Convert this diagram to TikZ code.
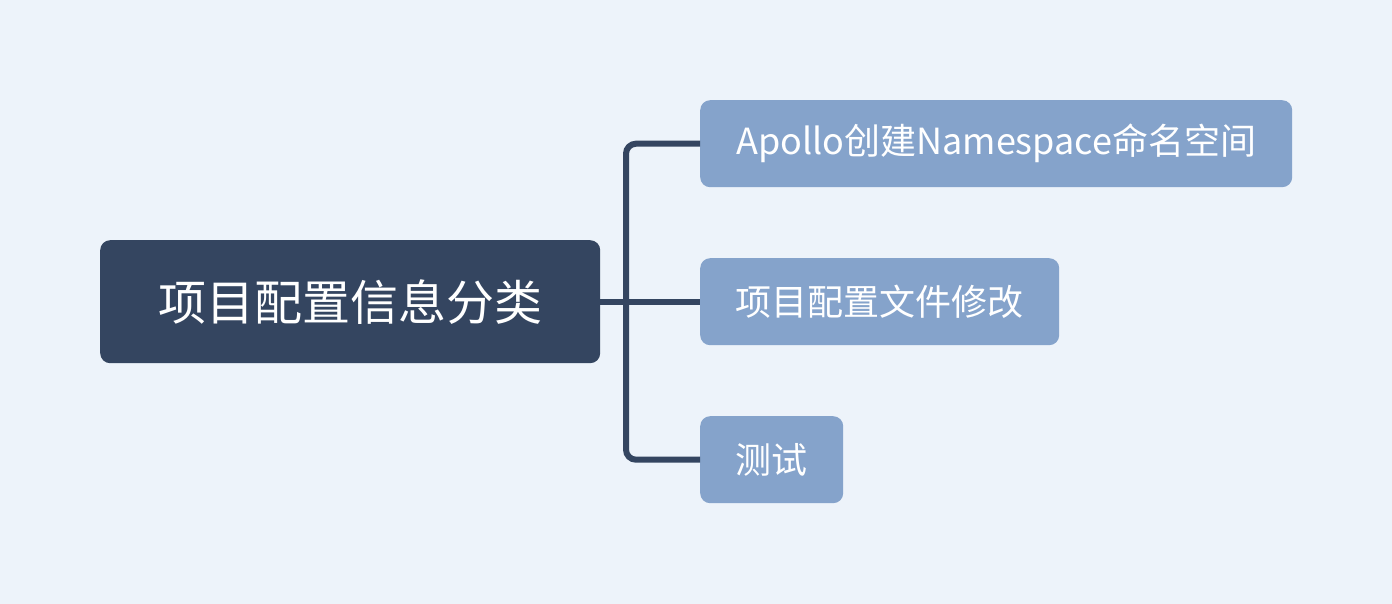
\documentclass[tikz,border=0pt]{standalone}
\usepackage{fontspec}
\setmainfont{Noto Sans CJK SC}
\definecolor{bg}{HTML}{EDF3FA}
\definecolor{rootc}{HTML}{344560}
\definecolor{childc}{HTML}{85A3CB}
\begin{document}
\begin{tikzpicture}[x=1pt,y=-1pt,
  rootbox/.style={fill=rootc,rounded corners=10pt,text=white,font=\fontsize{48}{54}\selectfont,inner sep=0pt,anchor=north west},
  childbox/.style={fill=childc,rounded corners=10pt,text=white,font=\fontsize{36}{42}\selectfont,inner sep=0pt,anchor=north west},
  conn/.style={draw=rootc,line width=6pt,rounded corners=10pt}]
\fill[bg] (0,0) rectangle (1392,604);
\useasboundingbox (0,0) rectangle (1392,604);
\node[rootbox,minimum width=500pt,minimum height=123pt] (root) at (100,240) {项目配置信息分类};
\node[childbox,minimum width=592pt,minimum height=87pt] (c1) at (700,100) {Apollo创建Namespace命名空间};
\node[childbox,minimum width=359pt,minimum height=87pt] (c2) at (700,258) {项目配置文件修改};
\node[childbox,minimum width=143pt,minimum height=87pt] (c3) at (700,416) {测试};
\coordinate (j) at (626,302);
\draw[conn] (root.east |- j) -- (c2.west |- j);
\draw[conn] (c1.west) -| (j) |- (c3.west);
\end{tikzpicture}
\end{document}
